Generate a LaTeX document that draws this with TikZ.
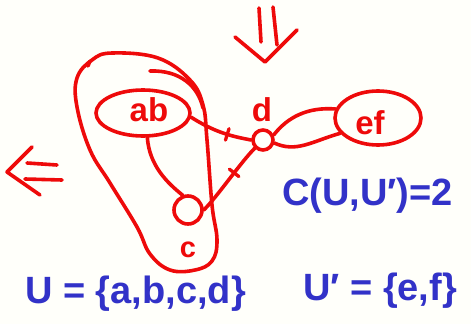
\documentclass[tikz,border=0pt]{standalone}
\usepackage{fontspec}
\setmainfont{Liberation Sans}
\usetikzlibrary{shapes.geometric,decorations.markings}
\definecolor{pen}{RGB}{238,10,10}
\definecolor{ink}{RGB}{50,50,200}
\definecolor{paper}{RGB}{255,255,250}
\begin{document}
\begin{tikzpicture}[x=1pt,y=-1pt, line cap=round, line join=round,
  redline/.style={draw=pen, line width=3.6pt},
  redtext/.style={text=pen, inner sep=0pt, font=\bfseries\fontsize{33}{33}\selectfont},
  bluetext/.style={text=ink, inner sep=0pt, anchor=base west, font=\bfseries\fontsize{38}{38}\selectfont},
  ticked/.style={postaction={decorate}, decoration={markings, mark=at position #1 with {\draw[pen, line width=3.3pt] (0,-6pt) -- (0,6pt);}}},
  blob/.style={redline, ellipse, inner sep=0pt}
]
\fill[paper] (0,0) rectangle (471,324);
\useasboundingbox (0,0) rectangle (471,324);

% outer group around ab and c
\draw[redline] plot[smooth cycle, tension=0.65] coordinates {(92,60) (112,53) (158,58) (190,80) (203,105) (207,140) (212,205) (217,240) (212,261) (195,270) (170,270) (150,254) (137,227) (110,183) (90,150) (77,107) (77,78)};
\draw[redline] (150,71) .. controls (180,70) and (198,86) .. (203,108);
\draw[redline] (88,66) -- (90,61);

% nodes
\node[blob, minimum width=94pt, minimum height=46pt] (ab) at (143,113) {};
\node[redtext] (abt) at (149,110) {ab};
\node[blob, circle, minimum size=28pt] (c) at (188,210) {};
\node[redtext, font=\bfseries\fontsize{29}{29}\selectfont] (ct) at (188,250) {c};
\node[blob, circle, minimum size=20pt] (d) at (263,140) {};
\node[redtext] (dt) at (262,110) {d};
\node[blob, minimum width=86pt, minimum height=54pt] (ef) at (378,118) {};
\node[redtext] (eft) at (370,123) {ef};

% connectors
\draw[redline, ticked=0.62] (ab.-5) .. controls +(22,14) and +(-22,-4) .. (d.west);
\draw[redline] (ab.-80) .. controls +(2,28) and +(-15,-12) .. (c.110);
\draw[redline, ticked=0.6] (c.east) .. controls +(14,-14) and +(-14,14) .. (d.-135);
\draw[redline] (d.25) .. controls +(14,-18) and +(-28,-2) .. (ef.168);
\draw[redline] (d.-15) .. controls +(22,10) and +(-28,8) .. (ef.-158);

% arrows
\coordinate (da1) at (259,8);  \coordinate (da2) at (261,42);
\coordinate (db1) at (273,7);  \coordinate (db2) at (277,45);
\coordinate (dc1) at (235,37); \coordinate (dc2) at (265,62); \coordinate (dc3) at (297,30);
\draw[redline] (da1) -- (da2);
\draw[redline] (db1) -- (db2);
\draw[redline] (dc1) -- (dc2) -- (dc3);
\coordinate (la1) at (32,147); \coordinate (la2) at (7,172); \coordinate (la3) at (40,195);
\coordinate (lb1) at (27,163); \coordinate (lb2) at (57,165);
\coordinate (lc1) at (25,179); \coordinate (lc2) at (62,180);
\draw[redline] (la1) -- (la2) -- (la3);
\draw[redline] (lb1) -- (lb2);
\draw[redline] (lc1) -- (lc2);

% blue text
\node[bluetext] (cut) at (282,205) {C(U,U′)=2};
\node[bluetext] (uset) at (25,303) {U = \{a,b,c,d\}};
\node[bluetext] (uset2) at (303,300) {U′ = \{e,f\}};
\end{tikzpicture}
\end{document}
